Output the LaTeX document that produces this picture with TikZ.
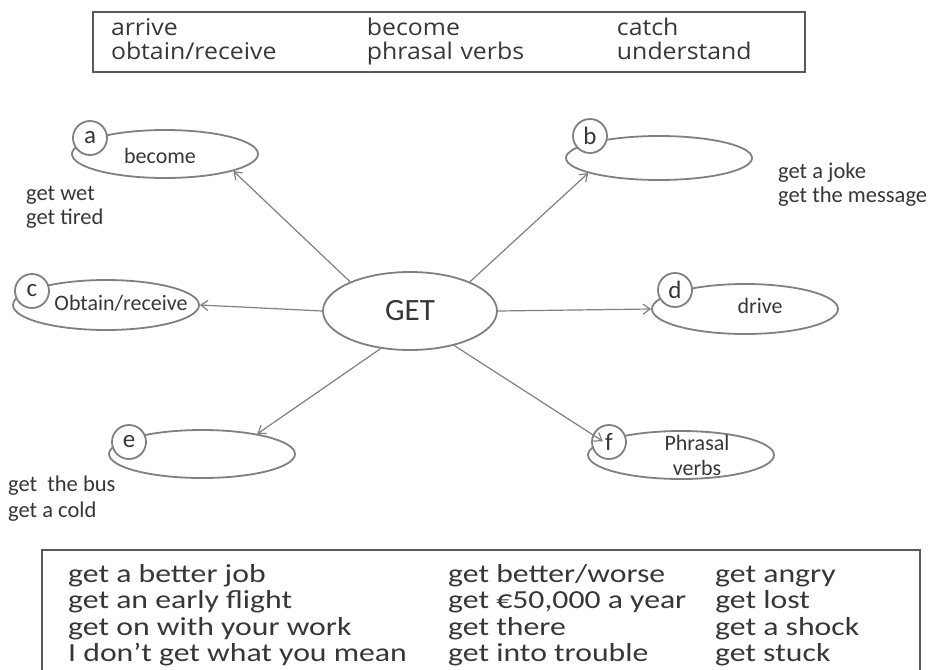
\documentclass[tikz,border=0pt]{standalone}
\usepackage{fontspec}
\setmainfont{Carlito}
\newfontfamily\boxfont[FakeStretch=1.08]{Open Sans}
\newfontfamily\phrasefont[FakeStretch=1.22]{Carlito}
\usetikzlibrary{arrows.meta,positioning,shapes.geometric}
\definecolor{linegray}{RGB}{128,128,128}
\definecolor{inkgray}{RGB}{55,55,55}
\definecolor{framegray}{RGB}{90,90,90}

\begin{document}
\begin{tikzpicture}[x=1pt, y=-1pt,
  sense/.style={draw=linegray, line width=1.8pt, ellipse, minimum width=186pt, minimum height=48pt, inner sep=0pt},
  tag/.style={draw=linegray, line width=1.8pt, circle, fill=white, minimum size=34pt, inner sep=0pt, font=\fontsize{25}{25}\selectfont, text=inkgray},
  word/.style={align=center, inner sep=0pt, font=\fontsize{22}{25}\selectfont, text=inkgray},
  eg/.style={align=left, anchor=north west, inner sep=0pt, font=\fontsize{22.5}{24}\selectfont, text=inkgray},
  arrow/.style={-{Straight Barb[length=7pt,width=10pt]}, draw=linegray, line width=1.2pt},
  frame/.style={draw=framegray, line width=1.6pt}
]
\useasboundingbox[fill=white] (0,0) rectangle (938,670);

% word list on top
\node[frame, minimum width=712pt, minimum height=60pt, text width=676pt, inner xsep=18pt, inner ysep=0pt,
      font=\boxfont\fontsize{23}{22}\selectfont, text=inkgray] (words) at (449,42)
  {\begin{tabular}{@{}p{244pt}p{238pt}l@{}}
   arrive & become & catch\\
   obtain/receive & phrasal verbs & understand
   \end{tabular}};

% centre
\node[sense, minimum width=174pt, minimum height=78pt, font=\fontsize{31}{31}\selectfont, text=inkgray] (get) at (410,311) {GET};

% the six meanings
\node[sense] (a) at (165,154) {};
\node[sense, minimum height=44pt] (b) at (659,158) {};
\node[sense, minimum height=50pt] (c) at (106,305) {};
\node[sense, minimum height=50pt] (d) at (745,309) {};
\node[sense] (e) at (202,454) {};
\node[sense] (f) at (681,455) {};

\node[tag] (ta) at (90,138) {a};
\node[tag] (tb) at (590,136) {b};
\node[tag] (tc) at (32,291) {c};
\node[tag] (td) at (675,290) {d};
\node[tag] (te) at (129,442) {e};
\node[tag] (tf) at (609,442) {f};

\node[word] (wa) at (160,156) {become};
\node[word] (wc) at (121,303) {Obtain/receive};
\node[word] (wd) at (760,306) {drive};
\node[word] (wf) at (697,455) {Phrasal\\verbs};

% examples beside the ellipses
\node[eg] (xa) at (26,186) {get wet\\get tired};
\node[eg] (xb) at (778,163) {get a joke\\get the message};
\node[eg, font=\fontsize{22.5}{26}\selectfont] (xe) at (8,476) {get\ \ the bus\\get a cold};

\draw[arrow] (get.154) -- (a.-14);
\draw[arrow] (get.26) -- (b.192);
\draw[arrow] (get.west) -- (c.east);
\draw[arrow] (get.east) -- (d.west);
\draw[arrow] (get.232) -- (e.20);
\draw[arrow] (get.-38) -- (f.170);

% phrases at the bottom
\draw[frame] (42,700) |- (920,550) -- (920,700);
\node[anchor=north west, inner sep=0pt, font=\phrasefont\fontsize{26}{26.3}\selectfont, text=inkgray] (phrases) at (68,564)
  {\begin{tabular}{@{}p{368pt}p{255pt}l@{}}
   get a better job & get better/worse & get angry\\
   get an early flight & get €50,000 a year & get lost\\
   get on with your work & get there & get a shock\\
   I don’t get what you mean & get into trouble & get stuck
   \end{tabular}};
\end{tikzpicture}
\end{document}
